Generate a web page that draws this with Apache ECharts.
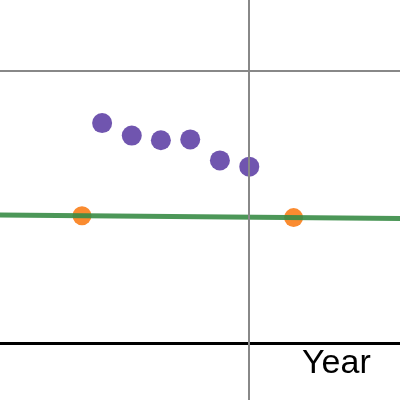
<!DOCTYPE html>
<html>
<head>
<meta charset="utf-8">
<script src="https://cdn.jsdelivr.net/npm/echarts@6/dist/echarts.min.js"></script>
<style>
  html, body { margin: 0; padding: 0; background: #fff; }
  #chart { width: 400px; height: 400px; }
</style>
</head>
<body>
<div id="chart"></div>
<script>
// values (one grid square = 10 units)
const purpleX = [-5.40, -4.31, -3.24, -2.16, -1.07, 0.01];
const purpleY = [8.09, 7.63, 7.46, 7.49, 6.72, 6.49];
const orangeX = [-6.14, 1.64];
const orangeY = [4.69, 4.62];
// trend line through the orange points, ends outside the view
const lineX = [-10, 10];
const lineY = [4.725, 4.545];
// visible window and the gridlines inside it
const xRange = [-9.154, 5.551];
const yRange = [-2.073, 12.606];
const gridX = [0];
const gridY = [10];

const zip = (xs, ys) => xs.map((x, i) => [x, ys[i]]);

const chart = echarts.init(document.getElementById('chart'));
chart.setOption({
  animation: false,
  title: {
    text: 'Year',
    left: 302,
    top: 347,
    padding: 0,
    textStyle: {
      fontFamily: 'Liberation Sans',
      fontSize: 34,
      fontWeight: 'normal',
      color: '#000'
    }
  },
  grid: { left: 0, right: 0, top: 0, bottom: 0 },
  xAxis: {
    type: 'value',
    min: xRange[0],
    max: xRange[1],
    axisLine: { onZero: true, lineStyle: { color: '#000', width: 3 } },
    axisTick: { show: false },
    axisLabel: { show: false },
    splitLine: { show: false }
  },
  yAxis: {
    type: 'value',
    min: yRange[0],
    max: yRange[1],
    axisLine: { show: false },
    axisTick: { show: false },
    axisLabel: { show: false },
    splitLine: { show: false }
  },
  series: [
    {
      type: 'scatter',
      z: 2,
      symbolSize: 19,
      itemStyle: { color: '#fa7e19', opacity: 0.9 },
      data: zip(orangeX, orangeY),
      markLine: {
        silent: true,
        symbol: 'none',
        label: { show: false },
        lineStyle: { color: '#888', width: 2, type: 'solid' },
        data: gridX.map(v => ({ xAxis: v })).concat(gridY.map(v => ({ yAxis: v })))
      }
    },
    {
      type: 'line',
      z: 3,
      symbol: 'none',
      lineStyle: { color: '#388c46', width: 5, opacity: 0.9 },
      data: zip(lineX, lineY)
    },
    {
      type: 'scatter',
      z: 4,
      symbolSize: 20,
      itemStyle: { color: '#6042a6', opacity: 0.9 },
      data: zip(purpleX, purpleY)
    }
  ]
});
</script>
</body>
</html>
